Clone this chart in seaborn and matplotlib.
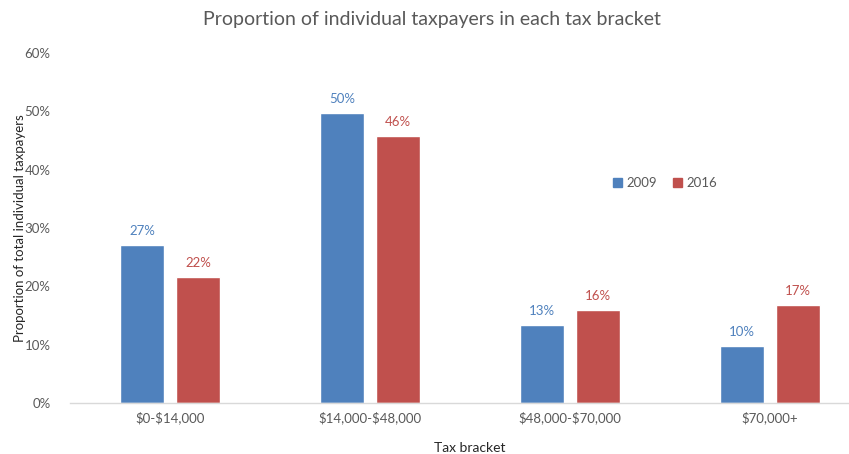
import matplotlib

matplotlib.use("Agg")
import matplotlib.pyplot as plt
import pandas as pd
import seaborn as sns

# data
brackets = ["$0-$14,000", "$14,000-$48,000", "$48,000-$70,000", "$70,000+"]
years = ["2009", "2016"]
share_2009 = [0.270, 0.497, 0.133, 0.098]
share_2016 = [0.216, 0.458, 0.159, 0.168]

colors = {"2009": "#4F81BD", "2016": "#C0504D"}

df = pd.DataFrame(
    {
        "bracket": brackets * 2,
        "year": [years[0]] * 4 + [years[1]] * 4,
        "share": share_2009 + share_2016,
    }
)

sns.set_theme(style="white")
plt.rcParams["font.family"] = ["Lato", "DejaVu Sans"]
plt.rcParams["text.parse_math"] = False  # dollar signs are literal

fig = plt.figure(figsize=(8.49, 4.54), dpi=100)
ax = fig.add_axes([70 / 849, 1 - 403 / 454, 800 / 849, 350 / 454])

sns.barplot(
    data=df,
    x="bracket",
    y="share",
    hue="year",
    palette=colors,
    saturation=1,
    width=0.56,
    gap=0.23,
    ax=ax,
    legend=False,
)

# value labels in series colour
for cont, yr in zip(ax.containers, years):
    labels = [f"{v:.0%}" for v in cont.datavalues]
    ax.bar_label(cont, labels=labels, padding=6, color=colors[yr], fontsize=9.5)

ax.set_xlim(-0.5, 3.5)
ax.set_ylim(0, 0.6)
ax.set_yticks([0, 0.1, 0.2, 0.3, 0.4, 0.5, 0.6])
ax.set_yticklabels([f"{t:.0%}" for t in ax.get_yticks()])
ax.tick_params(axis="both", length=0, labelsize=9.5, colors="#595959")
ax.tick_params(axis="y", pad=14)
ax.tick_params(axis="x", pad=6)

for s in ["top", "right", "left"]:
    ax.spines[s].set_visible(False)
ax.spines["bottom"].set_color("#D9D9D9")
ax.spines["bottom"].set_linewidth(1)

ax.set_xlabel("Tax bracket", fontsize=10, color="#262626", labelpad=13)
ax.set_ylabel(
    "Proportion of total individual taxpayers", fontsize=9.5, color="#262626"
)
ax.yaxis.set_label_coords(-(70 - 26) / 800, 0.5)
fig.text(
    432 / 849,
    1 - 20 / 454,
    "Proportion of individual taxpayers in each tax bracket",
    ha="center",
    va="center",
    fontsize=14,
    color="#595959",
)

handles = [
    plt.Rectangle((0, 0), 1, 1, color=colors[y]) for y in years
]
fig.legend(
    handles,
    years,
    loc="center",
    bbox_to_anchor=(665 / 849, 1 - 183 / 454),
    ncol=2,
    frameon=False,
    fontsize=9.5,
    handlelength=0.7,
    handleheight=0.7,
    handletextpad=0.3,
    columnspacing=1.2,
    labelcolor="#595959",
)

fig.savefig("out.png", dpi=100)
